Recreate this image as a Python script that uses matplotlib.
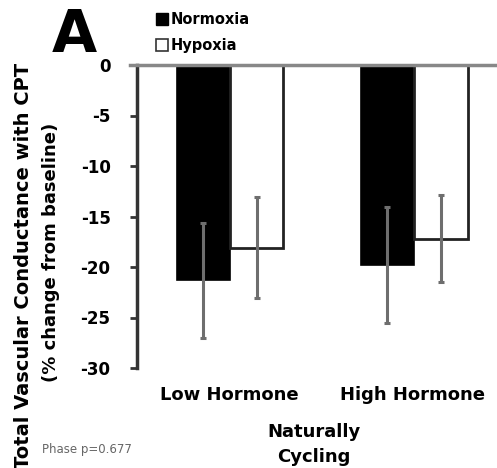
import matplotlib
matplotlib.use("Agg")
import matplotlib.pyplot as plt
from matplotlib.lines import Line2D
import numpy as np

plt.rcParams['font.family'] = ['DejaVu Sans']

categories = ["Low Hormone", "High Hormone"]
series_names = ["Normoxia", "Hypoxia"]
normoxia = [-21.3, -19.8]
normoxia_err = [5.7, 5.7]
hypoxia = [-18.1, -17.2]
hypoxia_err = [5.0, 4.3]
yticks = [0, -5, -10, -15, -20, -25, -30]

fig = plt.figure(figsize=(4.97, 4.68), dpi=100)
ax = fig.add_axes([137/497, 1-368/468, 1-137/497, (368-65)/468])

x = np.arange(len(categories))
w = 0.29
ax.bar(x - w/2, normoxia, w, color='black', edgecolor='black', linewidth=1.2, zorder=2)
ax.bar(x + w/2, hypoxia, w, color='white', edgecolor='#222222', linewidth=2.0, zorder=2)
ax.errorbar(x - w/2, normoxia, yerr=normoxia_err, fmt='none', ecolor='#6e6e6e',
            elinewidth=2.2, capsize=2.5, capthick=2.2, zorder=3)
ax.errorbar(x + w/2, hypoxia, yerr=hypoxia_err, fmt='none', ecolor='#6e6e6e',
            elinewidth=2.2, capsize=2.5, capthick=2.2, zorder=3)
ax.axhline(0, xmin=-0.02, color='#888888', linewidth=2.5, zorder=4, clip_on=False)

ax.set_xlim(-0.505, 1.45)
ax.set_ylim(-30, 0)
ax.set_yticks(yticks)
ax.set_yticklabels([str(t) for t in yticks], fontsize=12, fontweight='bold')
ax.tick_params(axis='y', length=5, width=2, color='#333333', pad=14)
ax.set_xticks([])
for s in ['top', 'right', 'bottom']:
    ax.spines[s].set_visible(False)
ax.spines['left'].set_linewidth(2.5)
ax.spines['left'].set_color('#333333')

for xi, lab in zip(x, categories):
    fig.text((229 + xi*184)/497, 1-395/468, lab, ha='center', va='center',
             fontsize=13, fontweight='bold')
fig.text(314/497, 1-432/468, "Naturally", ha='center', va='center', fontsize=13, fontweight='bold')
fig.text(314/497, 1-457/468, "Cycling", ha='center', va='center', fontsize=13, fontweight='bold')
fig.text(42/497, 1-450/468, "Phase p=0.677", ha='left', va='center', fontsize=8.5, color='#666666')

fig.text(24/497, 1-266/468, "Total Vascular Conductance with CPT", rotation=90,
         ha='center', va='center', fontsize=14, fontweight='bold')
fig.text(51/497, 1-252/468, "(% change from baseline)", rotation=90,
         ha='center', va='center', fontsize=13, fontweight='bold')

fig.text(74/497, 1-35/468, "A", ha='center', va='center', fontsize=42, fontweight='bold')

handles = [Line2D([], [], marker='s', linestyle='none', markersize=8, markerfacecolor='black',
                  markeredgecolor='black'),
           Line2D([], [], marker='s', linestyle='none', markersize=8, markerfacecolor='white',
                  markeredgecolor='#333333', markeredgewidth=1.2)]
fig.legend(handles, series_names, loc='upper left', bbox_to_anchor=(155/497, 1-12/468),
           frameon=False, handletextpad=0.1, handlelength=1.0, labelspacing=0.75,
           prop={'size': 10.5, 'weight': 'bold'}, borderaxespad=0, borderpad=0)

fig.savefig("out.png", dpi=100)
